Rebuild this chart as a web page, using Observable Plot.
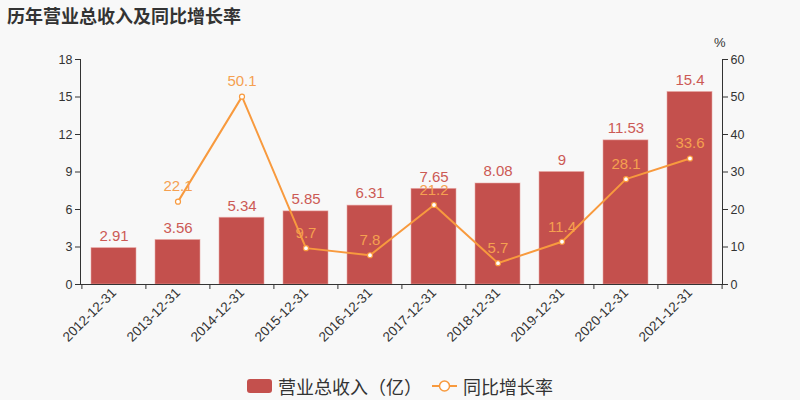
<!DOCTYPE html>
<html><head><meta charset="utf-8">
<script src="https://cdn.jsdelivr.net/npm/d3@7"></script>
<script src="https://cdn.jsdelivr.net/npm/@observablehq/plot@0.6"></script>
<style>
body{margin:0;background:#f8f8f8;}
#wrap{position:relative;width:800px;height:400px;background:#f8f8f8;overflow:hidden;font-family:"Liberation Sans","Noto Sans CJK SC",sans-serif;}
#title{position:absolute;left:7px;top:2px;font-size:18px;font-weight:bold;color:#333;font-family:"Noto Sans CJK SC",sans-serif;}
#legend{position:absolute;left:0;width:800px;top:373px;display:flex;justify-content:center;align-items:center;font-size:18px;color:#333;font-family:"Noto Sans CJK SC",sans-serif;}
#legend .item{display:flex;align-items:center;margin:0 6px;}
#legend svg{margin-right:6px;}
#chart{position:absolute;left:0;top:0;}
</style>
</head><body>
<div id="wrap">
<div id="chart"></div>
<div id="title">历年营业总收入及同比增长率</div>
<div id="legend"></div>
</div>
<script>
const years = ["2012-12-31","2013-12-31","2014-12-31","2015-12-31","2016-12-31","2017-12-31","2018-12-31","2019-12-31","2020-12-31","2021-12-31"];
const revenue = [2.91,3.56,5.34,5.85,6.31,7.65,8.08,9,11.53,15.4];
const growth = [null,22.1,50.1,9.7,7.8,21.2,5.7,11.4,28.1,33.6];
const leftTicks = [0,3,6,9,12,15,18];
const rightTicks = [0,10,20,30,40,50,60];
const seriesNames = ["营业总收入（亿）","同比增长率"];

const barColor = "#c4504d";
const barLabelColor = "#cc5a55";
const lineColor = "#f89a3e";
const lineLabelColor = "#f5a050";
const ratio = 18/60;

const data = years.map((y,i)=>({year:y, rev:revenue[i], g:growth[i]}));
const gdata = data.filter(d=>d.g!=null);

const W = 800, H = 400;
const mL = 80, mR = 78;
const step = (W - mL - mR)/years.length;

const chart = Plot.plot({
  width: W, height: H,
  marginLeft: mL, marginRight: mR, marginTop: 59, marginBottom: 116,
  style:{background:"transparent", fontFamily:"Liberation Sans, Noto Sans CJK SC, sans-serif", fontSize:"12px", color:"#333"},
  x:{domain: years, paddingInner:0.3, paddingOuter:0.15, label:null},
  y:{domain:[0,18], label:null},
  marks:[
    Plot.barY(data,{x:"year", y:"rev", fill:barColor, stroke:"#e9a7a4", strokeWidth:0.8, strokeOpacity:0.7}),
    Plot.text(data,{x:"year", y:"rev", text:d=>String(d.rev), dy:-12, fill:barLabelColor, fontSize:15}),
    Plot.line(gdata,{x:"year", y:d=>d.g*ratio, stroke:lineColor, strokeWidth:2}),
    Plot.dot(gdata,{x:"year", y:d=>d.g*ratio, r:2.5, fill:"#fff", stroke:lineColor, strokeWidth:1.2}),
    Plot.text(gdata,{x:"year", y:d=>d.g*ratio, text:d=>String(d.g), dy:-15, fill:lineLabelColor, fontSize:15}),
    Plot.ruleY([0],{stroke:"#333"}),
    Plot.frame({anchor:"left", stroke:"#333"}),
    Plot.frame({anchor:"right", stroke:"#333"}),
    Plot.axisY(leftTicks,{anchor:"left", tickSize:5, tickPadding:3, fill:"#333", stroke:"#333", fontSize:12.5, label:null}),
    Plot.axisY(rightTicks.map(v=>v*ratio),{anchor:"right", tickSize:5, tickPadding:3, tickFormat:d=>String(Math.round(d/ratio)), fill:"#333", stroke:"#333", fontSize:12.5, label:null}),
    Plot.text(["%"],{frameAnchor:"top-right", dy:-22, dx:3, fill:"#333", fontSize:13}),
    Plot.axisX({tickSize:0, tickPadding:6, tickRotate:-45, fill:"#333", fontSize:13.5, label:null}),
    Plot.axisX(years,{tickSize:5, text:null, dx:-step/2, stroke:"#333", label:null}),
    Plot.axisX([years[years.length-1]],{tickSize:5, text:null, dx:step/2, stroke:"#333", label:null})
  ]
});
document.getElementById("chart").appendChild(chart);

const legend = document.getElementById("legend");
legend.innerHTML =
 `<div class="item"><svg width="25" height="14"><rect x="0" y="0" width="25" height="14" rx="3" fill="${barColor}"/></svg><span>${seriesNames[0]}</span></div>`+
 `<div class="item" style="margin-left:4px"><svg width="25" height="14"><line x1="0" y1="7" x2="25" y2="7" stroke="${lineColor}" stroke-width="2"/><circle cx="12.5" cy="7" r="5" fill="#fff" stroke="${lineColor}" stroke-width="1.5"/></svg><span>${seriesNames[1]}</span></div>`;
</script>
</body></html>
